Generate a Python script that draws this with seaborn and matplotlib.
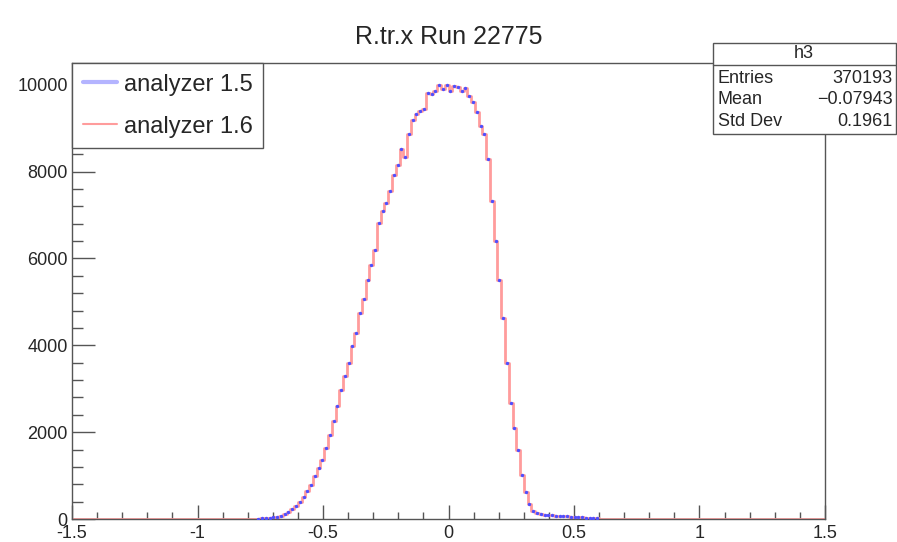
import numpy as np
import pandas as pd
import matplotlib
matplotlib.use('Agg')
import matplotlib.pyplot as plt
from matplotlib.lines import Line2D
from matplotlib.patches import Rectangle
from matplotlib.ticker import MultipleLocator
import seaborn as sns

# ---------------------------------------------------------------- data
title = 'R.tr.x Run 22775'
x_lo, x_hi, n_bins = -1.5, 1.5, 200
first_bin = 49   # first filled bin, lower edge at -0.765

counts_v16 = [10, 15, 20, 25, 35, 50, 70, 110, 160, 230,
              310, 400, 510, 640, 780, 1000, 1170, 1360, 1630, 1940,
              2250, 2600, 2980, 3300, 3590, 3975, 4280, 4745, 5070, 5510,
              5860, 6190, 6820, 7090, 7280, 7545, 7915, 8145, 8530, 8345,
              8860, 9190, 9320, 9400, 9430, 9820, 9780, 9860, 9990, 9900,
              9990, 9860, 9970, 9940, 9860, 9935, 9745, 9600, 9360, 9050,
              8860, 8280, 7320, 6400, 5510, 4630, 3590, 2670, 2090, 1590,
              1015, 630, 340, 190, 130, 110, 95, 90, 85, 80,
              75, 70, 60, 50, 45, 40, 35, 30, 25, 20, 15]

counts_v15 = [10, 15, 20, 25, 35, 50, 70, 110, 160, 230,
              310, 400, 510, 640, 780, 1000, 1170, 1360, 1630, 1940,
              2250, 2600, 2980, 3300, 3590, 3975, 4280, 4745, 5070, 5510,
              5860, 6190, 6820, 7090, 7280, 7545, 7915, 8145, 8530, 8345,
              8860, 9190, 9320, 9400, 9430, 9820, 9780, 9860, 9990, 9900,
              9990, 9860, 9970, 9940, 9860, 9935, 9745, 9600, 9360, 9050,
              8860, 8280, 7320, 6400, 5510, 4630, 3590, 2670, 2090, 1590,
              1015, 630, 340, 190, 130, 110, 95, 90, 85, 80,
              75, 70, 60, 50, 45, 40, 35, 30, 25, 20, 15]

legend_labels = ['analyzer 1.5', 'analyzer 1.6']
stat_name = 'h3'
stat_labels = ['Entries', 'Mean', 'Std Dev']
stat_values = ['370193', '\u22120.07943', '0.1961']

# ---------------------------------------------------------------- table
edges = np.linspace(x_lo, x_hi, n_bins + 1)
centers = 0.5 * (edges[:-1] + edges[1:])
h15 = np.zeros(n_bins)
h16 = np.zeros(n_bins)
h15[first_bin:first_bin + len(counts_v15)] = counts_v15
h16[first_bin:first_bin + len(counts_v16)] = counts_v16
df = pd.DataFrame({'x': centers, 'v15': h15, 'v16': h16})

# ---------------------------------------------------------------- style
sns.set_style('white')
plt.rcParams['font.family'] = ['Liberation Sans', 'DejaVu Sans']
plt.rcParams['axes.unicode_minus'] = True

BLUE = '#4f4fff'
RED = '#ff9c9c'
FRAME = '#555555'

fig = plt.figure(figsize=(8.97, 5.42), dpi=100)
ax = fig.add_axes([0.0803, 0.0424, 0.8394, 0.8414])

sns.histplot(data=df, x='x', weights='v16', bins=n_bins, binrange=(x_lo, x_hi),
             element='step', fill=False, color=RED, linewidth=2.0, ax=ax)
sns.scatterplot(data=df[df['v15'] > 0], x='x', y='v15', color=BLUE,
                s=6, linewidth=0, ax=ax, zorder=5)

ax.set_xlim(x_lo, x_hi)
ax.set_ylim(0, 10500)
ax.set_xlabel('')
ax.set_ylabel('')
ax.set_title(title, fontsize=18, pad=14)

ax.xaxis.set_major_locator(MultipleLocator(0.5))
ax.xaxis.set_minor_locator(MultipleLocator(0.1))
ax.yaxis.set_major_locator(MultipleLocator(2000))
ax.yaxis.set_minor_locator(MultipleLocator(400))
ax.set_xticks(np.arange(-1.5, 1.51, 0.5))
ax.set_xticklabels(['-1.5', '-1', '-0.5', '0', '0.5', '1', '1.5'])
ax.tick_params(axis='x', which='major', direction='in', length=9.9, width=1,
               color=FRAME, labelsize=13, pad=4.5, bottom=True, top=False)
ax.tick_params(axis='x', which='minor', direction='in', length=5, width=1,
               color=FRAME, bottom=True, top=False)
ax.tick_params(axis='y', which='major', direction='in', length=16.3, width=1,
               color=FRAME, labelsize=13, pad=3, left=True, right=False)
ax.tick_params(axis='y', which='minor', direction='in', length=8.1, width=1,
               color=FRAME, left=True, right=False)
for sp in ax.spines.values():
    sp.set_color(FRAME)
    sp.set_linewidth(1)

handles = [Line2D([], [], color='#b4b4ff', lw=3),
           Line2D([], [], color=RED, lw=1.5)]
leg = ax.legend(handles, legend_labels, loc='upper left', bbox_to_anchor=(0, 1),
                borderaxespad=0, fontsize=17, frameon=True, fancybox=False,
                framealpha=1, edgecolor=FRAME, handlelength=1.45,
                handletextpad=0.3, labelspacing=0.85, borderpad=0.45)
leg.get_frame().set_linewidth(1)

# stats box (pixel coords from the top-left of the canvas)
W, H = 897, 542
bx0, bx1, by0, by1, bdiv = 712.7, 895.5, 42.7, 134.0, 65.0
fig.add_artist(Rectangle((bx0 / W, 1 - by1 / H), (bx1 - bx0) / W, (by1 - by0) / H,
                         transform=fig.transFigure, facecolor='white',
                         edgecolor=FRAME, lw=1, zorder=10))
fig.add_artist(Line2D([bx0 / W, bx1 / W], [1 - bdiv / H, 1 - bdiv / H],
                      transform=fig.transFigure, color=FRAME, lw=1, zorder=11))
fig.text((bx0 + bx1) / 2 / W, 1 - 54 / H, stat_name, ha='center', va='center',
         fontsize=13, zorder=12)
for i, (lab, val) in enumerate(zip(stat_labels, stat_values)):
    yy = 1 - (78.5 + i * 21.3) / H
    fig.text((bx0 + 5) / W, yy, lab, ha='left', va='center', fontsize=13, zorder=12)
    fig.text((bx1 - 3) / W, yy, val, ha='right', va='center', fontsize=13, zorder=12)

fig.savefig('out.png', dpi=100, facecolor='white')
